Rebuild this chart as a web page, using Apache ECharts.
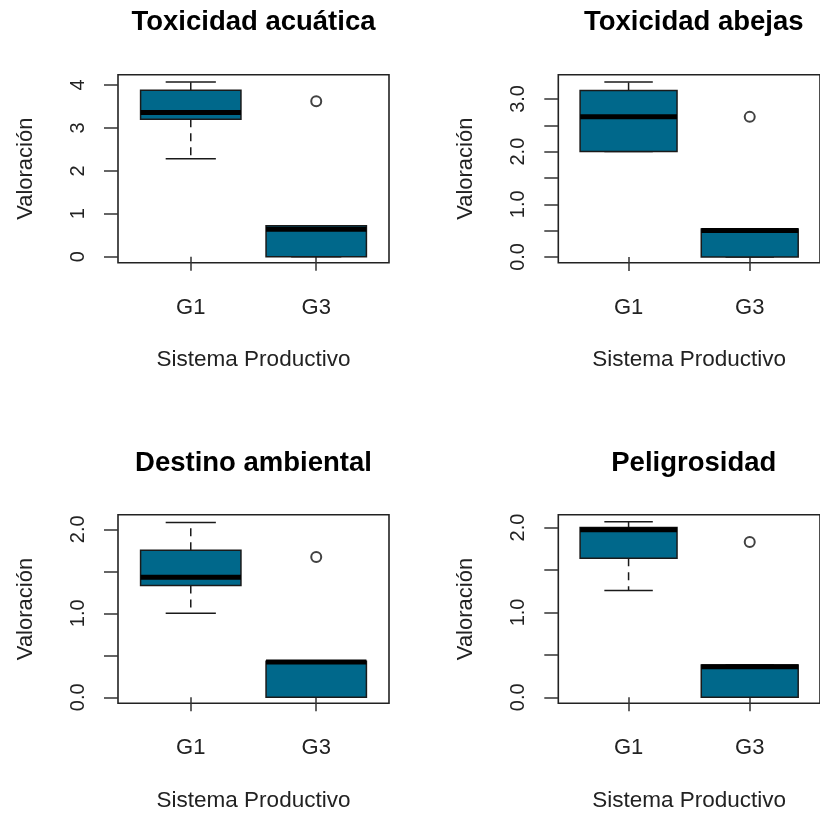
<!DOCTYPE html>
<html>
<head>
<meta charset="utf-8">
<script src="https://cdn.jsdelivr.net/npm/echarts@6/dist/echarts.min.js"></script>
<style>html,body{margin:0;padding:0;background:#fff;}#chart{width:820px;height:814px;}</style>
</head>
<body>
<div id="chart"></div>
<script>
// ---- Data ----
const categories = ['G1', 'G3'];
const panelTitles = ['Toxicidad acuática', 'Toxicidad abejas', 'Destino ambiental', 'Peligrosidad'];
const xAxisTitle = 'Sistema Productivo';
const yAxisTitle = 'Valoración';

// box stats per category: [min, Q1, median, Q3, max]
const acuaticaStats = [[2.28, 3.20, 3.36, 3.88, 4.07], [0, 0, 0.64, 0.72, 0.72]];
const acuaticaOutliers = [[], [3.62]];
const abejasStats = [[2.00, 2.00, 2.66, 3.16, 3.32], [0, 0, 0.50, 0.53, 0.53]];
const abejasOutliers = [[], [2.66]];
const destinoStats = [[1.00, 1.33, 1.43, 1.75, 2.08], [0, 0, 0.42, 0.43, 0.43]];
const destinoOutliers = [[], [1.67]];
const peligroStats = [[1.26, 1.64, 1.975, 2.00, 2.07], [0, 0, 0.36, 0.38, 0.38]];
const peligroOutliers = [[], [1.83]];

// tick values and labelled ticks
const acuaticaTicks = [0, 1, 2, 3, 4];
const acuaticaLabels = [0, 1, 2, 3, 4];
const abejasTicks = [0, 0.5, 1, 1.5, 2, 2.5, 3];
const abejasLabels = [0, 1, 2, 3];
const destinoTicks = [0, 0.5, 1, 1.5, 2];
const destinoLabels = [0, 1, 2];
const peligroTicks = [0, 0.5, 1, 1.5, 2];
const peligroLabels = [0, 1, 2];

// ---- Layout / style ----
const FONT = '"Liberation Sans", Arial, Helvetica, sans-serif';
const BOX_COLOR = '#00688B';
const LINE = '#1a1a1a';

const panels = [
  { title: panelTitles[0], stats: acuaticaStats, outliers: acuaticaOutliers, ticks: acuaticaTicks, labels: acuaticaLabels, decimals: 0,
    left: 118, top: 74.7, height: 188, ymin: -0.14, ymax: 4.24, titleTop: 8 },
  { title: panelTitles[1], stats: abejasStats, outliers: abejasOutliers, ticks: abejasTicks, labels: abejasLabels, decimals: 1,
    left: 558.3, top: 74.7, height: 188, ymin: -0.11, ymax: 3.461, titleTop: 8 },
  { title: panelTitles[2], stats: destinoStats, outliers: destinoOutliers, ticks: destinoTicks, labels: destinoLabels, decimals: 1,
    left: 118, top: 514.7, height: 188.6, ymin: -0.072, ymax: 2.174, titleTop: 449 },
  { title: panelTitles[3], stats: peligroStats, outliers: peligroOutliers, ticks: peligroTicks, labels: peligroLabels, decimals: 1,
    left: 558.3, top: 514.7, height: 188.6, ymin: -0.071, ymax: 2.152, titleTop: 449 }
];
const GRID_W = 271;

const option = {
  animation: false,
  backgroundColor: '#fff',
  title: [], grid: [], xAxis: [], yAxis: [], series: []
};

function renderBox(params, api) {
  const x = api.value(0);
  const mn = api.value(1), q1 = api.value(2), md = api.value(3), q3 = api.value(4), mx = api.value(5);
  const half = 0.4, staple = 0.2;
  const pTL = api.coord([x - half, q3]);
  const pBR = api.coord([x + half, q1]);
  const cx = api.coord([x, md])[0];
  const yMin = api.coord([x, mn])[1];
  const yMax = api.coord([x, mx])[1];
  const yQ1 = pBR[1], yQ3 = pTL[1];
  const sL = api.coord([x - staple, 0])[0], sR = api.coord([x + staple, 0])[0];
  const yMd = api.coord([x, md])[1];
  const children = [];
  children.push({ type: 'line', shape: { x1: cx, y1: yQ3, x2: cx, y2: yMax }, style: { stroke: LINE, lineWidth: 1.5, lineDash: [8, 6] } });
  children.push({ type: 'line', shape: { x1: cx, y1: yQ1, x2: cx, y2: yMin }, style: { stroke: LINE, lineWidth: 1.5, lineDash: [8, 6] } });
  children.push({ type: 'line', shape: { x1: sL, y1: yMax, x2: sR, y2: yMax }, style: { stroke: LINE, lineWidth: 1.5 } });
  children.push({ type: 'line', shape: { x1: sL, y1: yMin, x2: sR, y2: yMin }, style: { stroke: LINE, lineWidth: 1.5 } });
  children.push({ type: 'rect', shape: { x: pTL[0], y: yQ3, width: pBR[0] - pTL[0], height: yQ1 - yQ3 },
    style: { fill: BOX_COLOR, stroke: LINE, lineWidth: 1.5 } });
  children.push({ type: 'line', shape: { x1: pTL[0], y1: yMd, x2: pBR[0], y2: yMd }, style: { stroke: '#000', lineWidth: 5 } });
  return { type: 'group', children: children };
}

panels.forEach((p, i) => {
  option.title.push({
    text: p.title, left: p.left + GRID_W / 2, top: p.titleTop, textAlign: 'center', padding: 0,
    textStyle: { fontFamily: FONT, fontSize: 27.5, fontWeight: 'bold', color: '#000' }
  });
  option.grid.push({
    left: p.left, top: p.top, width: GRID_W, height: p.height,
    show: true, borderColor: '#222', borderWidth: 1.6, backgroundColor: 'transparent'
  });
  option.xAxis.push({
    type: 'value', gridIndex: i, min: 0.42, max: 2.58,
    splitLine: { show: false }, axisLine: { show: false },
    axisTick: { show: true, length: 14, inside: false, customValues: [1, 2], lineStyle: { color: '#333', width: 1.5 } },
    axisLabel: { customValues: [1, 2], margin: 34, fontFamily: FONT, fontSize: 22, color: '#222',
      formatter: v => categories[Math.round(v) - 1] || '' },
    name: xAxisTitle, nameLocation: 'middle', nameGap: 86,
    nameTextStyle: { fontFamily: FONT, fontSize: 22.5, color: '#222' }
  });
  option.yAxis.push({
    type: 'value', gridIndex: i, min: p.ymin, max: p.ymax,
    splitLine: { show: false }, axisLine: { show: false },
    axisTick: { show: true, length: 14, inside: false, customValues: p.ticks, lineStyle: { color: '#333', width: 1.5 } },
    axisLabel: { customValues: p.labels, rotate: 90, margin: 30, fontFamily: FONT, fontSize: 20, color: '#222',
      formatter: v => Number(v).toFixed(p.decimals) },
    name: yAxisTitle, nameLocation: 'middle', nameGap: 81, nameRotate: 90,
    nameTextStyle: { fontFamily: FONT, fontSize: 22, color: '#222' }
  });
  option.series.push({
    type: 'custom', xAxisIndex: i, yAxisIndex: i,
    renderItem: renderBox,
    encode: { x: 0, y: [1, 2, 3, 4, 5] },
    data: p.stats.map((s, k) => [k + 1].concat(s)),
    clip: false, z: 2
  });
  const outPts = [];
  p.outliers.forEach((arr, k) => arr.forEach(v => outPts.push([k + 1, v])));
  option.series.push({
    type: 'scatter', xAxisIndex: i, yAxisIndex: i,
    symbol: 'emptyCircle', symbolSize: 10,
    itemStyle: { color: '#111', borderWidth: 1.6 },
    data: outPts, z: 3
  });
});

const chart = echarts.init(document.getElementById('chart'), null, { renderer: 'canvas' });
chart.setOption(option);
</script>
</body>
</html>
